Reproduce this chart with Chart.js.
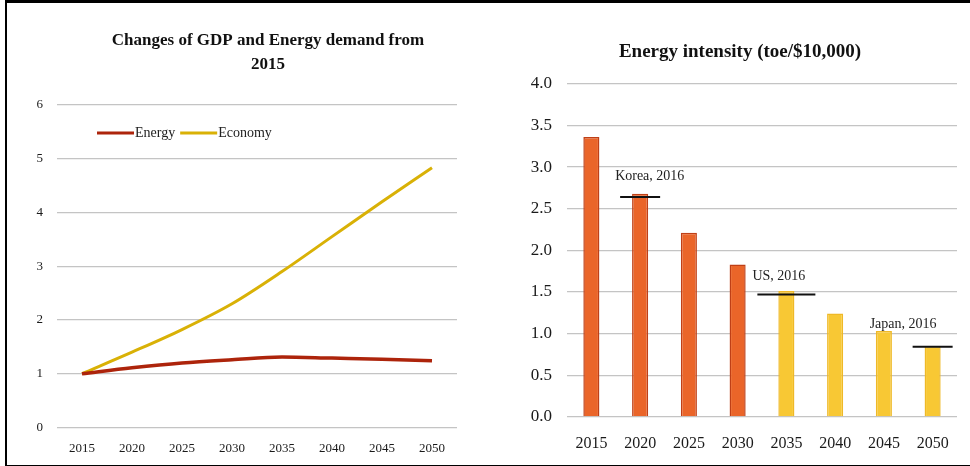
<!DOCTYPE html>
<html>
<head>
<meta charset="utf-8">
<script src="https://cdn.jsdelivr.net/npm/chart.js@4.4.1/dist/chart.umd.min.js"></script>
<style>
  html, body { margin: 0; padding: 0; background: #fff; overflow: hidden; }
  #frame {
    position: absolute; left: 5px; top: 0px; width: 975px; height: 462px;
    border-left: 2px solid #000; border-top: 3px solid #000; border-bottom: 2px solid #000;
  }
  #leftChart { position: absolute; left: 6px; top: 2px; }
  #rightChart { position: absolute; left: 512px; top: 2px; }
</style>
</head>
<body>
<div id="frame"></div>
<canvas id="leftChart" width="500" height="467"></canvas>
<canvas id="rightChart" width="456" height="468"></canvas>
<script>
// years shared by both charts
var years = ['2015', '2020', '2025', '2030', '2035', '2040', '2045', '2050'];

// left chart: index, 2015 = 1
var energyIndex = [1.0, 1.11, 1.2, 1.26, 1.31, 1.29, 1.27, 1.24];
var economyIndex = [1.0, 1.4, 1.82, 2.3, 2.9, 3.55, 4.2, 4.83];

// right chart: energy intensity (toe/$10,000)
var intensity = [3.36, 2.68, 2.21, 1.83, 1.51, 1.24, 1.03, 0.85];

// 2016 reference levels of other countries
var refNames = ['Korea, 2016', 'US, 2016', 'Japan, 2016'];
var refYears = ['2020', '2035', '2050'];
var refValues = [2.64, 1.47, 0.84];

var serif = '"Liberation Serif", "Times New Roman", serif';
Chart.defaults.font.family = serif;
Chart.defaults.animation = false;

// the original titles are not centred on the plot area, move them a bit
function titleShift(dx) {
    return {
        id: 'titleShift',
        afterLayout: function(chart) {
            var t = chart.titleBlock;
            var mid = (chart.chartArea.left + chart.chartArea.right) / 2 + dx;
            var half = (t.right - t.left) / 2;
            t.left = mid - half;
            t.right = mid + half;
        }
    };
}

// legend drawn inside the plot area, like the original
var insideLegend = {
    id: 'insideLegend',
    afterDraw: function(chart) {
        var ctx = chart.ctx;
        var x = chart.chartArea.left + 40;
        var y = chart.chartArea.top + 28;
        ctx.save();
        ctx.font = '14px ' + serif;
        ctx.textBaseline = 'middle';
        chart.data.datasets.forEach(function(ds) {
            ctx.strokeStyle = ds.borderColor;
            ctx.lineWidth = 3;
            ctx.beginPath();
            ctx.moveTo(x, y);
            ctx.lineTo(x + 37, y);
            ctx.stroke();
            ctx.fillStyle = '#222';
            ctx.fillText(ds.label, x + 38, y);
            x += 38 + ctx.measureText(ds.label).width + 5;
        });
        ctx.restore();
    }
};

new Chart(document.getElementById('leftChart'), {
    type: 'line',
    data: {
        labels: years,
        datasets: [
            { label: 'Energy', data: energyIndex, borderColor: '#ad240b', borderWidth: 3.5,
              pointRadius: 0, cubicInterpolationMode: 'monotone', fill: false },
            { label: 'Economy', data: economyIndex, borderColor: '#d9b106', borderWidth: 3,
              pointRadius: 0, cubicInterpolationMode: 'monotone', fill: false }
        ]
    },
    options: {
        responsive: false,
        layout: { padding: { left: 0, right: 49, top: 0, bottom: 0 } },
        plugins: {
            legend: { display: false },
            tooltip: { enabled: false },
            title: {
                display: true,
                text: ['Changes of GDP and Energy demand from', '2015'],
                color: '#111',
                font: { size: 17, weight: 'bold', family: serif, lineHeight: 1.41 },
                padding: { top: 27, bottom: 28 }
            }
        },
        scales: {
            x: {
                offset: true,
                grid: { display: false, drawTicks: false },
                border: { display: false },
                ticks: { color: '#1a1a1a', font: { size: 13 }, padding: 13, maxRotation: 0 }
            },
            y: {
                min: 0, max: 6,
                afterFit: function(s) { s.width = 51; },
                grid: { color: '#c4c4c4', lineWidth: 1.2, drawTicks: false },
                border: { display: false },
                ticks: { stepSize: 1, color: '#1a1a1a', font: { size: 13 }, padding: 14 }
            }
        }
    },
    plugins: [insideLegend, titleShift(11)]
});

// short black reference bars with their captions
var refLines = {
    id: 'refLines',
    afterDatasetsDraw: function(chart) {
        var ctx = chart.ctx;
        var xs = chart.scales.x, ys = chart.scales.y;
        var halfW = [20, 29, 20];
        var capDx = [-25, -34, -63];
        var capDy = [-21, -18, -23];
        ctx.save();
        ctx.font = '14px ' + serif;
        ctx.textBaseline = 'middle';
        refNames.forEach(function(name, i) {
            var cx = xs.getPixelForValue(years.indexOf(refYears[i]));
            var cy = ys.getPixelForValue(refValues[i]);
            ctx.strokeStyle = '#111';
            ctx.lineWidth = 2;
            ctx.beginPath();
            ctx.moveTo(cx - halfW[i], cy);
            ctx.lineTo(cx + halfW[i], cy);
            ctx.stroke();
            ctx.fillStyle = '#222';
            ctx.fillText(name, cx + capDx[i], cy + capDy[i]);
        });
        ctx.restore();
    }
};

new Chart(document.getElementById('rightChart'), {
    type: 'bar',
    data: {
        labels: years,
        datasets: [{
            label: 'Energy intensity',
            data: intensity,
            backgroundColor: intensity.map(function(v, i) { return i < 4 ? '#ea6529' : '#f8c834'; }),
            borderColor: intensity.map(function(v, i) { return i < 4 ? '#bf3f16' : '#efb927'; }),
            borderWidth: 1.5,
            barPercentage: 0.33,
            categoryPercentage: 1
        }]
    },
    options: {
        responsive: false,
        layout: { padding: { left: 0, right: 11, top: 0, bottom: 0 } },
        plugins: {
            legend: { display: false },
            tooltip: { enabled: false },
            title: {
                display: true,
                text: 'Energy intensity (toe/$10,000)',
                color: '#111',
                font: { size: 19, weight: 'bold', family: serif },
                padding: { top: 39, bottom: 20 }
            }
        },
        scales: {
            x: {
                grid: { display: false, drawTicks: false },
                border: { display: false },
                ticks: { color: '#1a1a1a', font: { size: 16 }, padding: 17, maxRotation: 0 }
            },
            y: {
                min: 0, max: 4,
                afterFit: function(s) { s.width = 55; },
                grid: { color: '#c4c4c4', lineWidth: 1.2, drawTicks: false },
                border: { display: false },
                ticks: {
                    stepSize: 0.5, color: '#1a1a1a', font: { size: 17 }, padding: 15,
                    callback: function(v) { return v.toFixed(1); }
                }
            }
        }
    },
    plugins: [refLines, titleShift(-22)]
});
</script>
</body>
</html>
